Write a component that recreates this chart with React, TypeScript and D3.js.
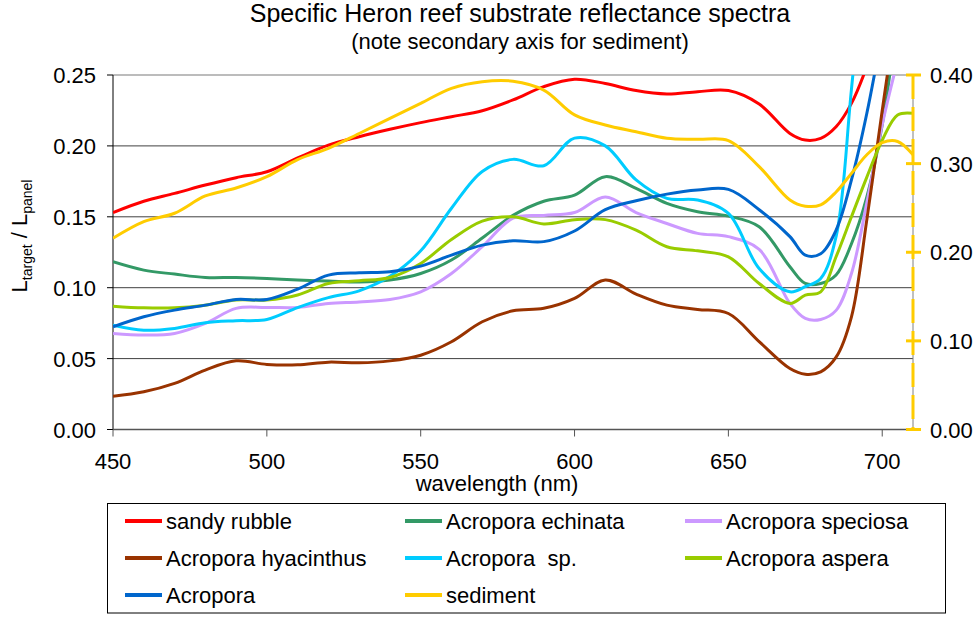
import * as React from 'react'
import * as d3 from 'd3'

const wavelengths = [450, 460, 470, 480, 490, 500, 510, 520, 530, 540, 550, 560, 570, 580, 590, 600, 610, 620, 630, 640, 650, 660, 670, 675, 680, 685, 690, 695, 700, 705, 710]

const sandyRubble = [0.153, 0.161, 0.1665, 0.1724, 0.1776, 0.1818, 0.1915, 0.2005, 0.2065, 0.2117, 0.2164, 0.2206, 0.2248, 0.2324, 0.2418, 0.247, 0.244, 0.239, 0.2366, 0.2382, 0.239, 0.2295, 0.2088, 0.2041, 0.2053, 0.2135, 0.23, 0.256, 0.29, 0.33, 0.37]
const echinata = [0.1183, 0.1124, 0.1096, 0.1072, 0.1072, 0.1065, 0.1054, 0.1047, 0.104, 0.1054, 0.11, 0.1195, 0.135, 0.151, 0.161, 0.1653, 0.1783, 0.17, 0.1595, 0.1536, 0.1505, 0.143, 0.1148, 0.103, 0.103, 0.109, 0.131, 0.164, 0.215, 0.29, 0.36]
const speciosa = [0.0677, 0.0666, 0.0677, 0.0748, 0.0854, 0.0861, 0.0861, 0.0889, 0.09, 0.0917, 0.0971, 0.11, 0.1289, 0.149, 0.151, 0.153, 0.164, 0.153, 0.1453, 0.1383, 0.136, 0.127, 0.0889, 0.0783, 0.0776, 0.084, 0.11, 0.16, 0.215, 0.26, 0.3]
const hyacinthus = [0.0235, 0.0266, 0.0325, 0.0419, 0.0484, 0.0459, 0.0456, 0.0475, 0.047, 0.0484, 0.0524, 0.0619, 0.076, 0.0837, 0.0855, 0.0925, 0.1055, 0.0955, 0.0877, 0.0847, 0.0818, 0.062, 0.043, 0.039, 0.0407, 0.051, 0.0795, 0.148, 0.225, 0.3, 0.37]
const acroporaSp = [0.0736, 0.07, 0.0713, 0.0753, 0.0767, 0.0776, 0.086, 0.093, 0.0978, 0.108, 0.126, 0.156, 0.182, 0.1905, 0.186, 0.2055, 0.2, 0.176, 0.163, 0.1618, 0.1524, 0.1135, 0.0971, 0.1007, 0.1065, 0.136, 0.24, 0.35, 0.45, 0.5, 0.55]
const aspera = [0.087, 0.0858, 0.0858, 0.0877, 0.0913, 0.0913, 0.0948, 0.103, 0.1049, 0.1072, 0.1171, 0.134, 0.147, 0.15, 0.145, 0.148, 0.148, 0.1406, 0.1289, 0.126, 0.1218, 0.103, 0.0889, 0.0948, 0.0971, 0.1218, 0.15, 0.178, 0.204, 0.2218, 0.223]
const acropora = [0.0724, 0.0795, 0.0842, 0.0877, 0.0917, 0.0917, 0.099, 0.1089, 0.1105, 0.1112, 0.1152, 0.123, 0.13, 0.1331, 0.1325, 0.14, 0.155, 0.1613, 0.166, 0.1689, 0.1693, 0.155, 0.136, 0.123, 0.124, 0.1406, 0.176, 0.223, 0.28, 0.34, 0.4]
// sediment is on the secondary (right) axis
const sediment = [0.2157, 0.2345, 0.244, 0.2635, 0.2725, 0.2853, 0.3045, 0.3173, 0.334, 0.351, 0.368, 0.385, 0.3925, 0.393, 0.383, 0.355, 0.3436, 0.336, 0.3286, 0.3274, 0.326, 0.2966, 0.259, 0.252, 0.2535, 0.268, 0.289, 0.31, 0.3236, 0.325, 0.31]

const xTicks = [450, 500, 550, 600, 650, 700]
const yLeftTicks = [0, 0.05, 0.1, 0.15, 0.2, 0.25]
const yRightTicks = [0, 0.1, 0.2, 0.3, 0.4]

const series = [
  { name: 'sandy rubble', values: sandyRubble, color: '#FF0000', right: false },
  { name: 'Acropora echinata', values: echinata, color: '#339966', right: false },
  { name: 'Acropora speciosa', values: speciosa, color: '#CC99FF', right: false },
  { name: 'Acropora hyacinthus', values: hyacinthus, color: '#993300', right: false },
  { name: 'Acropora  sp.', values: acroporaSp, color: '#00CCFF', right: false },
  { name: 'Acropora aspera', values: aspera, color: '#99CC00', right: false },
  { name: 'Acropora', values: acropora, color: '#0066CC', right: false },
  { name: 'sediment', values: sediment, color: '#FFCC00', right: true },
]

const font = '"Liberation Sans", Arial, sans-serif'

const App = () => {
  const width = 978
  const height = 617
  const left = 113
  const right = 913
  const top = 75
  const bottom = 429.5

  const x = d3.scaleLinear().domain([450, 710]).range([left, right])
  const yL = d3.scaleLinear().domain([0, 0.25]).range([bottom, top])
  const yR = d3.scaleLinear().domain([0, 0.4]).range([bottom, top])

  const makeLine = (scale) =>
    d3.line<number>()
      .x((d, i) => x(wavelengths[i]))
      .y(d => scale(d))
      .curve(d3.curveCatmullRom.alpha(0.5))

  // sediment drawn last (secondary axis series sit on top)
  const drawOrder = [...series.filter(s => !s.right), ...series.filter(s => s.right)]

  const legendCols = [125, 405, 685]
  const legendRows = [521, 558, 595]

  return (
    <svg width={width} height={height} style={{ position: 'absolute', left: 0, top: 0, background: '#fff' }} fontFamily={font}>
      <defs>
        <clipPath id="plot">
          <rect x={left} y={top} width={right - left} height={bottom - top} />
        </clipPath>
      </defs>

      <text x={520} y={22} textAnchor="middle" fontSize={25}>Specific Heron reef substrate reflectance spectra</text>
      <text x={520} y={49} textAnchor="middle" fontSize={22}>(note secondary axis for sediment)</text>

      {/* gridlines */}
      {yLeftTicks.filter(t => t > 0 && t < 0.25).map(t => (
        <line key={t} x1={left} x2={right} y1={yL(t)} y2={yL(t)} stroke="#404040" strokeWidth={1} />
      ))}
      <line x1={left} x2={right} y1={top} y2={top} stroke="#a6a6a6" strokeWidth={1.5} />

      {/* left axis */}
      <line x1={left} x2={left} y1={top} y2={bottom} stroke="#000" strokeWidth={1} />
      {yLeftTicks.map(t => (
        <g key={t}>
          <line x1={left - 6} x2={left} y1={yL(t)} y2={yL(t)} stroke="#000" />
          <text x={96} y={yL(t) + 8} textAnchor="end" fontSize={22}>{t.toFixed(2)}</text>
        </g>
      ))}

      {/* bottom axis */}
      <line x1={left} x2={right} y1={bottom} y2={bottom} stroke="#555" strokeWidth={1.5} />
      {xTicks.map(t => (
        <g key={t}>
          <line x1={x(t)} x2={x(t)} y1={bottom} y2={bottom + 7} stroke="#555" />
          <text x={x(t)} y={469} textAnchor="middle" fontSize={22}>{t}</text>
        </g>
      ))}
      <text x={497} y={491} textAnchor="middle" fontSize={22}>wavelength (nm)</text>

      <text transform="translate(27,236) rotate(-90)" textAnchor="middle" fontSize={22}>
        L<tspan fontSize={14} dy={5}>target</tspan><tspan dy={-5}> / L</tspan><tspan fontSize={14} dy={5}>panel</tspan>
      </text>

      {/* series */}
      <g clipPath="url(#plot)">
        {drawOrder.map(s => (
          <path key={s.name} d={makeLine(s.right ? yR : yL)(s.values) || ''} fill="none" stroke={s.color} strokeWidth={3} strokeLinejoin="round" />
        ))}
      </g>

      {/* right (secondary) axis */}
      <line x1={right} x2={right} y1={top} y2={bottom} stroke="#808080" strokeWidth={1} />
      <line x1={right} x2={right} y1={top} y2={bottom} stroke="#FFCC00" strokeWidth={3} strokeDasharray="24 8" />
      {yRightTicks.map(t => (
        <g key={t}>
          <line x1={right - 7} x2={right + 8} y1={yR(t)} y2={yR(t)} stroke="#FFCC00" strokeWidth={3} />
          <text x={930} y={yR(t) + 8} fontSize={22}>{t.toFixed(2)}</text>
        </g>
      ))}

      {/* legend */}
      <rect x={107.5} y={503.5} width={838} height={109.5} fill="none" stroke="#000" strokeWidth={1} />
      {series.map((s, i) => {
        const cx = legendCols[i % 3]
        const cy = legendRows[Math.floor(i / 3)]
        return (
          <g key={s.name}>
            <line x1={cx} x2={cx + 37} y1={cy} y2={cy} stroke={s.color} strokeWidth={4} />
            <text x={cx + 41} y={cy + 8} fontSize={22} style={{ whiteSpace: 'pre' }}>{s.name}</text>
          </g>
        )
      })}
    </svg>
  )
}

export default App
